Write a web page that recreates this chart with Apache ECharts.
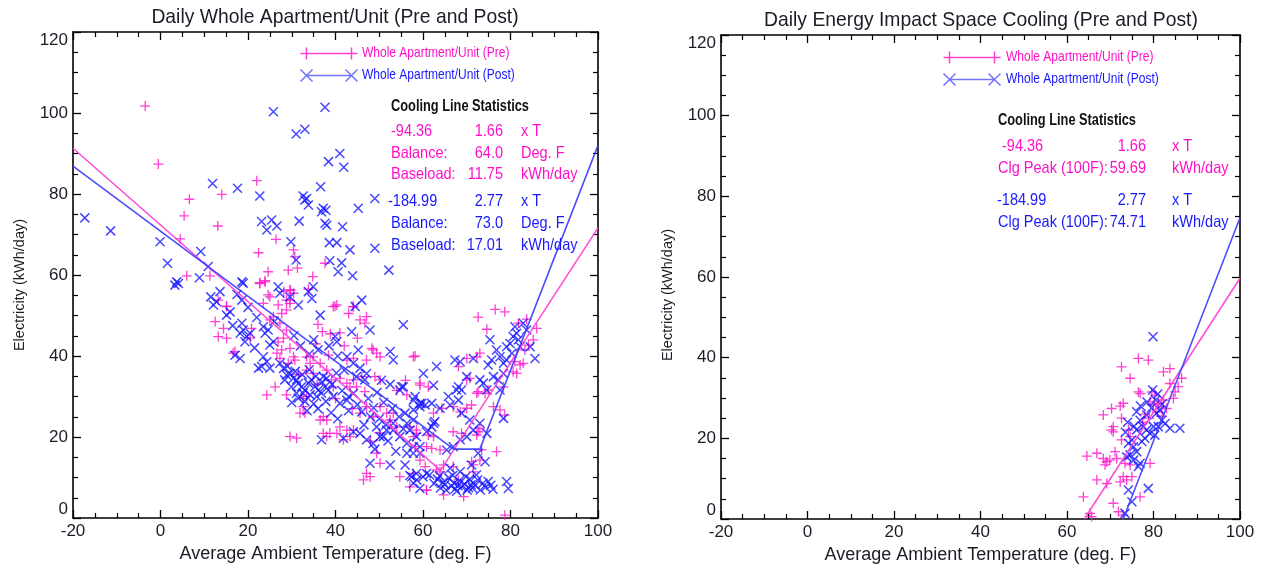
<!DOCTYPE html>
<html>
<head>
<meta charset="utf-8">
<script src="https://cdn.jsdelivr.net/npm/echarts@6/dist/echarts.min.js"></script>
<style>html,body{margin:0;padding:0;background:#fff}#c{width:1262px;height:569px}</style>
</head>
<body>
<div id="c"></div>
<script>
// ---------- DATA ----------
const PRE = 'Whole Apartment/Unit (Pre)';
const POST = 'Whole Apartment/Unit (Post)';
const titles = ['Daily Whole Apartment/Unit (Pre and Post)', 'Daily Energy Impact Space Cooling (Pre and Post)'];
const xName = 'Average Ambient Temperature (deg. F)';
const yName = 'Electricity (kWh/day)';
const statsHeader = 'Cooling Line Statistics';

const preLeft = [
[-3.5,101.7],[-0.5,87.4],[6.6,78.7],[5.4,74.6],[14,79.9],[13.1,72.1],[4.5,68.9],[6,59.8],[11.3,59.8],[22,83.3],[22.4,65.5],[26.4,68.8],[24.6,60.8],[22.7,58.1],[23.9,58.6],[25,54.6],[29.2,61.2],[31.3,61.7],[30.4,66.2],[30.7,64.5],[34.8,59.6],[37.6,62.9],[39.9,52.3],[44,52.2],[28.2,55.9],[29.7,56.3],[29.6,53.8],[33.8,56.5],[15.1,52.3],
[12.5,48.5],[13.2,44.8],[15.1,44.4],[14.4,46.8],[15.1,52.2],[13.2,53.8],[16.6,40.7],[17,41.1],[20.5,44.4],[20.8,46.8],
[22.7,57.9],[23.9,58.3],[24.6,55.1],[23.5,53],[26.9,52.6],[25.8,49.7],[25,48.9],[27.3,48.1],[27.7,50.5],[28.8,51.4],[29.6,56.3],[30.4,55.5],[28.8,53.8],[29.6,53],[28.8,46.4],[28.1,44.4],[26.9,43.5],[26.6,40.7],[27.3,39.4],[29.6,41.9],[30.4,39.8],[27.7,41.5],[29.2,38.2],
[24.3,30.4],[26.2,32.4],[28.8,30.4],
[30.7,39],[33.4,39.8],[34.9,39.8],[34.2,38.2],[33.4,36.5],[34.9,35.7],[36.5,38.2],[38.4,40.2],[38,36.5],[39.5,32.4],[39.1,34.1],[41,34.5],[42.6,33.3],[43.3,32.4],[44.1,34.1],[44.8,32.4],[46.7,31.2],[46,34.9],[49,34.9],[50.2,34.1],[48.3,41.9],[47.1,39],[49.4,40.7],[44.1,39.4],[42.6,39],
[32.6,29.5],[33.4,30],[32.6,27.5],[31.9,25.9],[33,25.9],[29.6,20.1],[31.1,19.7],
[36.5,24.2],[37.2,25],[38,24.2],[38.7,20.9],[40.3,20.9],[41,22.5],[42.6,21.7],[43.3,20.1],[44.1,21.7],[41.8,19.3],[38,20.1],[37.2,20.9],
[45.6,25.9],[47.1,27.5],[48.6,25],[50.2,27.5],[51.7,25.9],[52.5,24.2],[54,22.5],[53.2,25.9],
[39.5,52.2],[40.3,52.6],[43,50.5],[44.1,52.2],[45.6,48.9],[47.1,49.7],[46.7,48.1],[48.6,41.5],[50.2,39.8],[57.8,39.8],[59.3,33.3],[61.2,32.4],[47.1,11],[46.4,9.4],[47.9,10.2],[49.4,16],[50.2,13.5],[54.7,10.2],[59.3,14.3],[60.5,12.7],[57.8,20.1],[57,22.5],[58.5,21.7],[60.8,6.9],
[58.2,40],[72.6,49.6],[76.5,51.5],[78.7,50.9],[74.6,46.6],[81.8,48.1],[83.7,49.1],[86,46.8],[85.2,44],[84.1,42.7],[83.3,41.5],[70,39.4],[72.3,39.8],[73,40.7],[68.1,37.4],[70.7,34.5],[70,34.1],[72.6,31.2],[72.3,30.8],[74.2,30.8],[74.9,31.6],[78.4,32.4],[64.3,27.1],[66.9,27.5],[70,27.1],[71.1,27.9],[68.5,26.2],[62.4,25.9],[59.3,32.8],[56.3,30.4],[66.9,21.3],[68.8,20.9],[72.3,20.5],[72.6,21.3],[73,22.1],[73.4,16.8],[76.8,16.4],[78.7,25.4],[76.1,27.5],[77.6,26.7],[58.5,20.9],[58.2,17.6],[60.8,17.6],[62,17.2],[61.2,20.5],[62.4,20.1],[63.9,16.8],[64.7,13.1],[66.9,12.7],[71.1,13.9],[71.5,13.1],[73,14.3],[63.1,11.9],[63.9,11.4],[57.8,11],[57,7.7],[60.8,6.9],[64.7,5.7],[69.3,5.3],[68.1,9.4],[71.5,11.4],[78.7,0.7],
[81,38.6],[82.2,37.8],[82.9,38.2],[80.6,36.1],[81.4,35.7],[54,31.5],[56,34],[41,45.7],[45,44.4],[37,46],[35.5,43],[48,19],[50,21],
[31.5,35.5],[35.8,33],[40,29.5],[43.8,27],[38.8,45.5],[42,42.5],[36,47.8]
];

const postLeft = [
[-17.3,74.1],[-11.4,70.9],[-0.1,68.2],[1.6,62.9],[3.7,58.3],[4.1,57.9],[3.3,57.5],[8.9,59.3],[9.2,65.8],[10.9,62.1],[11.9,82.6],[11.5,54.6],[12.8,53.4],[13.6,55.9],[17.6,81.4],[18.6,58.3],[18.9,58],[18.6,53.8],[22.7,79.5],[23.1,73.2],[24.3,71.1],[25.4,73.6],[26.6,72.1],[25.8,100.3],[26.9,57.1],[29.8,68.2],[31,94.8],[33,96],[31,63.7],[31.7,73.3],[32.6,79.5],[33.4,78.9],[33,78.5],[33.8,77.3],[34.9,57.1],[36.6,81.8],[37.6,101.4],[37.2,76.5],[37.8,76],[36.8,75.6],[37.6,72.8],[38,72.3],[38.4,88],[38.6,68],[40.3,68],[38.7,63.5],[41,90],[41.6,71.9],[40.6,60.8],[41.4,63],[41.9,86.6],[43.3,66.2],[43.9,59.8],[45.2,76.5],
[49,78.9],[49,66.6],[52.2,61.2],
[12.1,52.6],[27.3,55.5],[29.6,54.6],[31.5,52.6],[33.8,55.9],[34.6,54.2],
[15.1,50.1],[15.9,50.9],[18.6,48.1],[18.9,46.4],[18.2,45.6],[19.7,44.8],[19.3,43.5],[20.5,45.6],[18.2,39.4],[17,40.2],[23.5,47.2],[24.6,46.4],[23.9,45.6],[25.8,43.5],[25,42.7],[23.5,39.8],[24.3,38.6],[23.1,37.4],[25,37],[22.4,37],[36.5,50.1],
[27.3,38.2],[28.1,36.9],[28.8,35.3],[29.6,35.7],[30.4,34.5],[31.1,34.1],[28.4,34.1],[29.9,32.4],[31.5,33.2],[32.2,32.4],[33,31.6],[33.8,33.3],[34.5,34.1],[35.3,32.4],[36.1,31.6],[36.8,30.8],[37.6,32.4],[38.4,31.6],[32.6,30.8],[34.2,30.4],[35.7,30],[37.2,34.9],[38,34.5],[31.1,30.8],
[39.9,44.8],[40.3,43.5],[42.6,39.8],[44.1,38.2],[45.6,37],[46.7,34.1],[44.8,34.9],[47.1,35.7],[46,53.8],[44.5,52.2],[47.9,46.4],[43.7,46],[45.2,41.5],[44.1,30.8],[42.6,29.1],[41,28.3],[39.5,30],
[36.8,19.3],[41.8,19.7],[44.1,21.3],[45.6,20.9],[47.1,19.3],[48.6,18.4],[50.2,20.1],[51.7,21.7],[53.2,23.4],[54.7,20.1],[56.3,18.4],[57.8,17.6],[59.3,16],
[47.9,13.5],[52.5,13.1],[55.9,13.1],[57.4,10.2],[57.8,8.6],[58.6,9.4],[60.8,11],[59.3,7.3],
[52.5,41.1],[53.2,39],[54.7,31.6],[55.1,32.4],[57.8,29.1],[59.3,27.5],[59.7,28.3],[57.8,24.2],[56.3,23.4],[53.2,21.7],[49.4,22.5],[50.9,20.1],
[26,48.5],[30.5,45],[32,42.5],[35,44],[34,40.5],[36,41.5],[38.5,42.5],[40.5,40],[42,36.5],[30,28.5],[33.5,26.5],[36,27],[39,26],[40.5,24.5],[43,26.5],[45,28],[47.5,29.5],[49.5,31],[51,28.5],[48,25],[46.5,23],[50.5,34],[52.5,33],
[29,37.5],[30.8,36.2],[32.4,35.4],[34,36.6],[35.5,35],[36.9,33.6],[39.2,33],[40.2,35.8],[41.5,31.4],[43,30],[33,28.8],[35,28.2],[37.8,28.8],[31.5,29.6],
[46,26.2],[48.7,27.2],[50,24.5],[51.5,23],[53,27],[54.5,25],[55.5,22],[52,19],[49,17],[53.8,16.5],
[16.5,47.5],[21.5,42],[22,49.5],[20,52],[17.5,55.2],
[55.5,47.7],[63.1,37.4],[60.1,35.7],[62.4,32.8],[55.5,32.4],[67.3,39],[68.5,38.6],[71.5,39.4],[58.2,30],[59.3,28.3],[60.5,27.9],[62,28.3],[57.8,26.7],[65.8,30],[67.7,31.6],[68.1,29.1],[66.2,27.9],[63.9,27.1],[62.4,23.4],[62.7,23.8],[62,22.5],[55.9,25.9],[57,21.7],[58.5,20.1],[60.8,21.3],[59.3,17.6],[56.3,16],[57.8,16],[65.4,16.8],[66.9,17.6],[68.5,19.3],[70,20.1],[71.5,21.7],[73,23.4],[74.6,20.9],[70.7,24.2],[68.8,25.9],[74.2,13.9],[72.6,16],[71.1,13.1],[68.5,11.4],[66.2,12.3],
[62.5,8.5],[63.3,9.6],[64,7.4],[64.6,8.8],[65.3,6.9],[65.9,9.9],[66.5,7.9],[67.1,8.6],[67.7,6.6],[68.3,9.2],[68.9,7.7],[69.5,8.4],[70.1,6.9],[70.7,9.6],[71.3,7.4],[71.9,8.1],[72.5,9.4],[73.1,6.9],[73.7,8.6],[74.3,7.6],[74.9,9],[75.5,8.1],[76,7.1],[63.8,10.4],[66.8,10.5],[69.8,10.2],[72.2,10.6],[65,8.2],[68,8],[71,8.2],[70.4,7.5],[67.4,7.2],
[57,10.5],[58.5,11],[60,10.2],[61.5,10.6],[79.1,9],[79.5,7.3],
[75.3,44],[76.8,41.5],[75.7,39],[74.9,37.8],[77.6,39.8],[78.4,38.2],[79.1,42.3],[79.9,43.1],[80.6,44.8],[81.4,45.6],[81.8,44],[82.2,42.3],[80.3,40.7],[79.1,39],[81,47.2],[82.9,48.1],[83.7,46.4],[85.6,39.4],[84.5,42.3],[78.4,35.7],[77.2,34.1],[76.1,34.9],[73.8,33.3],[73,34.1],[74.6,31.6],[77.6,31.6],[70,34.9],[68.1,32.4],[68.8,31.6],[78.4,24.6]
];

const preRight = [
[76.5,39.8],[78.8,39.4],[72.6,37.7],[74.6,34.9],[82.3,36.5],[83.8,37.3],[83.8,33.6],[86.5,34.9],[85.7,32.8],[85,31.5],[76.5,31.5],[76.9,31.1],[73,28.7],[72.3,28],[70.3,27.4],[68.4,25.8],[72.6,25],[70.7,22.9],[70.3,22.1],[70.7,21.6],[79.6,31.5],[80.3,30.7],[79.2,29.1],[80,28.3],[81.1,28.7],[82.3,29.5],[81.9,27.8],[83,27.4],[84.6,29.9],[72.6,19.6],[74.2,22.1],[74.6,20.4],[64.6,15.6],[66.9,16.3],[68.4,15],[69.2,14.2],[68.8,13.4],[69.9,14.6],[71.5,15],[71.1,16.7],[73.4,13.8],[74.6,13.4],[79.2,13.8],[66.9,9.7],[69.2,8.8],[72.3,9.2],[73,10.5],[73.8,9.7],[75,10.5],[63.8,5.5],[70.7,3.9],[71.9,1.8],[65.3,1.4],[65.7,0.6],[76.9,5.5],[73,1],
[78,26],[79,25],[80.8,26.5],[82,25.5],[77.5,24]
];

const postRight = [
[79.9,45.2],
[76.1,26.6],[76.9,24.5],[78.4,25.8],[80.7,26.2],[81.5,27],[81.9,24.5],[81.1,22.9],[80,22.9],[79.2,21.2],[78.4,22.1],[80.3,20.8],[82.7,23.7],[83.8,22.5],[86.1,22.5],[77.6,22.9],[76.1,22.1],
[74.2,18.8],[75.4,17.9],[76.1,16.7],[74.6,15.9],[73.8,15.4],[75.4,14.6],[76.9,13.8],[76.5,13],[75,19.6],[77.3,19.2],[78,20],[74.2,7.2],[75,4.3],[78.8,7.6],[73.4,1.4],
[78.5,29],[80.5,29.5],[82,28.5],[79.5,27.5],[77,28],[81,31],[79.8,32],[74,24],[75.5,23],[73.5,21.5]
];

// fitted model lines (change points from the statistics box)
const preLeftLine = [[-20,91.3],[64,11.75],[100,71.64]];
const postLeftLine = [[-20,86.9],[67,17.01],[73,17.01],[100,92.01]];
const preRightLine = [[64,0],[100,59.69]];
const postRightLine = [[73,0],[100,74.71]];

const statsLeft = {
  pre: [['-94.36','1.66','x T'],['Balance:','64.0','Deg. F'],['Baseload:','11.75','kWh/day']],
  post: [['-184.99','2.77','x T'],['Balance:','73.0','Deg. F'],['Baseload:','17.01','kWh/day']]
};
const statsRight = {
  pre: [['-94.36','1.66','x T'],['Clg Peak (100F):','59.69','kWh/day']],
  post: [['-184.99','2.77','x T'],['Clg Peak (100F):','74.71','kWh/day']]
};

// ---------- STYLE ----------
const FONT = "'Liberation Sans',Arial,sans-serif";
const PINK = '#ff10c8';
const BLUE = '#1818ff';
const PINK_LINE = '#ff3ccf';
const BLUE_LINE = '#3a3aff';
const TXT = '#1c1c28';
const PLUS = 'path://M0,5L10,5M5,0L5,10';
const CROSS = 'path://M0,0L10,10M0,10L10,0';
const LEG_PLUS = 'path://M0,6L57,6M6,0L6,12M51,0L51,12';
const LEG_CROSS = 'path://M0,0L12,12M0,12L12,0M45,0L57,12M45,12L57,0M6,6L51,6';

const chart = echarts.init(document.getElementById('c'));

function xAxes(g){
  const common = {
    gridIndex:g, type:'value', min:-20, max:100, interval:20,
    axisLine:{show:true, onZero:false, lineStyle:{color:'#000', width:1.6}},
    axisTick:{show:true, inside:true, length:8, lineStyle:{color:'#000', width:1.3}},
    minorTick:{show:true, splitNumber:4, length:5, lineStyle:{color:'#000', width:1.2}},
    splitLine:{show:false}, minorSplitLine:{show:false}
  };
  return [
    Object.assign({}, common, {position:'bottom',
      axisLabel:{show:true, color:TXT, fontSize:17, fontFamily:FONT, margin:5},
      name:xName, nameLocation:'middle', nameGap:25,
      nameTextStyle:{color:TXT, fontSize:18, fontFamily:FONT}}),
    Object.assign({}, common, {position:'top', axisLabel:{show:false}})
  ];
}
function yAxes(g, shift){
  const common = {
    gridIndex:g, type:'value', min:0, max:120, interval:20,
    axisLine:{show:true, onZero:false, lineStyle:{color:'#000', width:1.6}},
    axisTick:{show:true, inside:true, length:8, lineStyle:{color:'#000', width:1.3}},
    minorTick:{show:true, splitNumber:4, length:5, lineStyle:{color:'#000', width:1.2}},
    splitLine:{show:false}, minorSplitLine:{show:false}
  };
  return [
    Object.assign({}, common, {position:'left',
      axisLabel:{show:true, color:TXT, fontSize:17, fontFamily:FONT, margin:5,
        verticalAlignMinLabel:'bottom', verticalAlignMaxLabel:'top'},
      name:yName, nameLocation:'middle', nameGap:46,
      nameTextStyle:{color:TXT, fontSize:14.5, fontFamily:FONT, padding:[0,shift,0,0]}}),
    Object.assign({}, common, {position:'right', axisLabel:{show:false}})
  ];
}

function scatter(name, data, xi, yi, sym, color, size, bw){
  return {name, type:'scatter', xAxisIndex:xi, yAxisIndex:yi, data, symbol:sym, symbolSize:size,
    itemStyle:{color:'none', borderColor:color, borderWidth:bw}, emphasis:{disabled:true}, z:2};
}
function line(name, data, xi, yi, color){
  return {name, type:'line', xAxisIndex:xi, yAxisIndex:yi, data, showSymbol:false, symbol:'none',
    lineStyle:{color, width:1.6, opacity:0.9}, itemStyle:{color}, z:3, silent:true, animation:false};
}

// each legend entry is its own legend component (icon only); labels drawn as condensed text
function legendItem(left, top, name, icon, color){
  return {left, top, padding:0, itemWidth:57, itemHeight:12, selectedMode:false,
    formatter:()=>'', textStyle:{fontSize:10, lineHeight:12},
    data:[{name, icon, itemStyle:{color:'none', borderColor:color, borderWidth:1.5}}]};
}

function txt(text, x, y, color, size, align, sx, weight){
  return {type:'text', silent:true, z:10, x, y, scaleX:sx, scaleY:1,
    style:{text, x:0, y:0, fill:color, font:(weight||'normal')+' '+size+'px '+FONT,
    textAlign:align||'left', textVerticalAlign:'middle'}};
}

const graphics = [];
graphics.push(txt(titles[0], 335, 17, TXT, 21, 'center', 0.92));
graphics.push(txt(titles[1], 981, 20, TXT, 21, 'center', 0.92));
// legend labels
graphics.push(txt(PRE, 362, 53, PINK, 15, 'left', 0.8));
graphics.push(txt(POST, 362, 75, BLUE, 15, 'left', 0.8));
graphics.push(txt(PRE, 1006, 57, PINK, 15, 'left', 0.8));
graphics.push(txt(POST, 1006, 79, BLUE, 15, 'left', 0.8));
const SX = 0.88;
// left stats
graphics.push(txt(statsHeader, 391, 107, '#111', 16, 'left', 0.8, 'bold'));
const lRowsY = [131,153,174,201,223,245];
statsLeft.pre.concat(statsLeft.post).forEach((r,i)=>{
  const c = i<3 ? PINK : BLUE;
  graphics.push(txt(r[0], i===3?388:391, lRowsY[i], c, 16.5, 'left', SX));
  graphics.push(txt(r[1], 503, lRowsY[i], c, 16.5, 'right', SX));
  graphics.push(txt(r[2], 521, lRowsY[i], c, 16.5, 'left', SX));
});
// right stats
graphics.push(txt(statsHeader, 998, 121, '#111', 16, 'left', 0.8, 'bold'));
const rRowsY = [146,168,200,222];
const rX0 = [1002,998,997,998];
statsRight.pre.concat(statsRight.post).forEach((r,i)=>{
  const c = i<2 ? PINK : BLUE;
  graphics.push(txt(r[0], rX0[i], rRowsY[i], c, 16.5, 'left', SX));
  graphics.push(txt(r[1], 1146, rRowsY[i], c, 16.5, 'right', SX));
  graphics.push(txt(r[2], 1172, rRowsY[i], c, 16.5, 'left', SX));
});

const xs0 = xAxes(0), xs1 = xAxes(1), ys0 = yAxes(0, 20), ys1 = yAxes(1, 36);

chart.setOption({
  animation:false,
  backgroundColor:'#fff',
  textStyle:{fontFamily:FONT},
  grid:[
    {left:73, top:32, width:525, height:486, containLabel:false},
    {left:721, top:35, width:519, height:484, containLabel:false}
  ],
  xAxis:[xs0[0], xs0[1], xs1[0], xs1[1]],
  yAxis:[ys0[0], ys0[1], ys1[0], ys1[1]],
  legend:[
    legendItem(298, 45, PRE, LEG_PLUS, PINK),
    legendItem(298, 67, POST, LEG_CROSS, '#5050ff'),
    legendItem(941, 49, PRE, LEG_PLUS, PINK),
    legendItem(941, 71, POST, LEG_CROSS, '#5050ff')
  ],
  graphic:graphics,
  series:[
    scatter(PRE, preLeft, 0, 0, PLUS, PINK, 10, 1.3),
    scatter(POST, postLeft, 0, 0, CROSS, BLUE, 9, 1.5),
    line('Pre model', preLeftLine, 0, 0, PINK_LINE),
    line('Post model', postLeftLine, 0, 0, BLUE_LINE),
    scatter(PRE, preRight, 2, 2, PLUS, PINK, 10, 1.3),
    scatter(POST, postRight, 2, 2, CROSS, BLUE, 9, 1.5),
    line('Pre cooling', preRightLine, 2, 2, PINK_LINE),
    line('Post cooling', postRightLine, 2, 2, BLUE_LINE)
  ]
});
</script>
</body>
</html>
